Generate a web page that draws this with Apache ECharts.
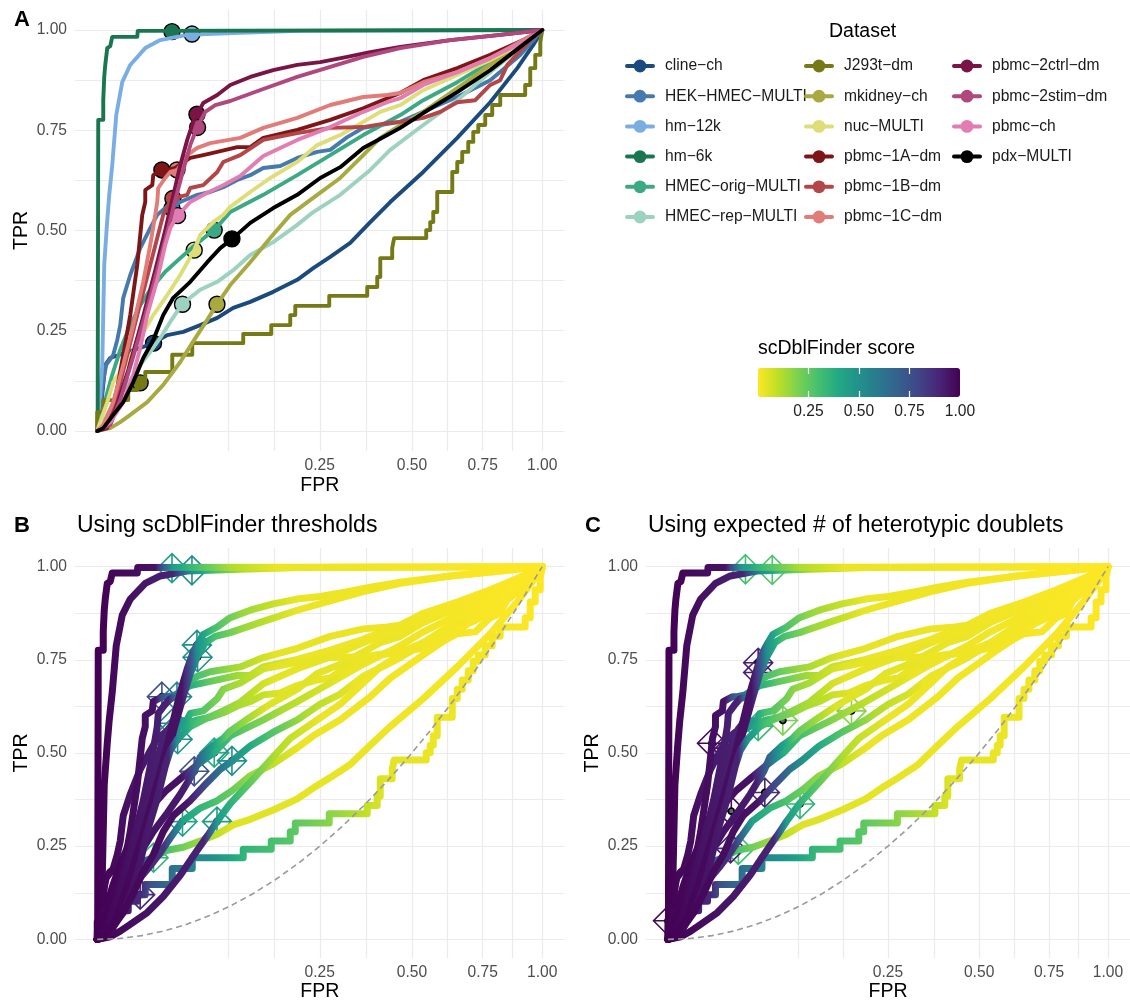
<!DOCTYPE html>
<html><head><meta charset="utf-8">
<script src="https://cdn.jsdelivr.net/npm/echarts@6/dist/echarts.min.js"></script>
<style>html,body{margin:0;padding:0;background:#fff}#chart{width:1130px;height:1003px}</style>
</head><body><div id="chart"></div>
<script>
// ---------------- data ----------------
const datasets = ['cline−ch','HEK−HMEC−MULTI','hm−12k','hm−6k','HMEC−orig−MULTI','HMEC−rep−MULTI',
  'J293t−dm','mkidney−ch','nuc−MULTI','pbmc−1A−dm','pbmc−1B−dm','pbmc−1C−dm',
  'pbmc−2ctrl−dm','pbmc−2stim−dm','pbmc−ch','pdx−MULTI'];
const datasetColors = ['#1B4B7D','#4679AE','#7AAEE2','#1A7650','#3CA985','#9DD2C0',
  '#757A17','#A9A942','#DEDD77','#7E1618','#B24648','#E17C79',
  '#7A1444','#B0477D','#E27DB1','#000000'];
const stepCurves = ['J293t−dm'];

const fprValues = [
  [0,0.00002,0.00008,0.000182,0.000323,0.000853,0.003955,0.009337,0.01584,0.02474,0.03735,0.05357,0.07272,0.0934,0.1182,0.1564,0.2020,0.2356,0.2741,0.3232,0.3764,0.4335,0.5367,0.6545,0.7799,0.8909,0.9601,1],
  [0,0.00002,0.00008,0.000182,0.000409,0.001293,0.00202,0.002671,0.003414,0.0055,0.009337,0.01418,0.01818,0.02335,0.02841,0.03479,0.0505,0.06448,0.08017,0.09898,0.1182,0.1392,0.1691,0.2020,0.2444,0.2741,0.3156,0.3573,0.4045,0.4637,0.5367,0.6545,0.7799,0.9036,1],
  [0,0.000005,0.000045,0.000126,0.000182,0.000247,0.000505,0.000727,0.001136,0.001823,0.003156,0.0055,0.01164,0.02004,0.0409,0.1033,0.2081,1],
  [0,0.000001,0.000005,0.000182,0.000182,0.000247,0.000323,0.000505,0.000853,0.001136,0.00808,0.00828,1],
  [0,0.000045,0.000323,0.001136,0.002671,0.0055,0.009337,0.01418,0.02335,0.03479,0.0485,0.0589,0.06913,0.08932,0.1392,0.2020,0.2741,0.3573,0.4637,0.5367,0.6545,0.7799,0.9164,1],
  [0,0.000182,0.000853,0.002671,0.0055,0.009337,0.01418,0.02004,0.02691,0.03649,0.05357,0.07272,0.0934,0.1182,0.1564,0.2020,0.2356,0.2982,0.3764,0.4335,0.5367,0.6545,0.7799,0.9164,1],
  [0,0,0.000182,0.004853,0.00808,0.01164,0.02841,0.04558,0.1076,0.1529,0.1881,0.1980,0.2718,0.3681,0.3959,0.4045,0.4393,0.4452,0.5465,0.5599,0.5701,0.5837,0.6365,0.6545,0.6727,0.6950,0.7139,0.7332,0.7602,0.7878,0.8201,0.9248,0.9467,0.9688,0.9911,1],
  [0,0.000853,0.002671,0.0055,0.01263,0.0220,0.03479,0.0505,0.0611,0.07272,0.08932,0.1182,0.1511,0.1881,0.2444,0.2982,0.3573,0.4045,0.4637,0.5367,0.6545,0.7799,0.9164,1],
  [0,0.000045,0.000505,0.001293,0.004545,0.009337,0.01584,0.02474,0.03479,0.04751,0.05357,0.06795,0.08017,0.08932,0.1182,0.1511,0.2020,0.2444,0.2982,0.3573,0.4045,0.4637,0.5367,0.6545,0.7799,0.9164,1],
  [0,0.000505,0.00202,0.003414,0.0055,0.00808,0.01023,0.01164,0.01164,0.01528,0.01584,0.02133,0.02474,0.03072,0.03649,0.04368,0.05674,0.07272,0.09898,0.1182,0.1392,0.2020,0.2741,0.3573,0.4247,0.4637,0.5367,0.6545,0.7799,0.9164,1],
  [0,0.000505,0.00202,0.004545,0.00808,0.01418,0.0220,0.02546,0.02917,0.0409,0.04368,0.05674,0.07272,0.08017,0.1033,0.1392,0.2020,0.2741,0.3573,0.4247,0.4637,0.5367,0.5940,0.6545,0.7216,0.7799,0.8201,0.8492,0.9467,1],
  [0,0.000182,0.001293,0.003414,0.006545,0.01069,0.01418,0.01699,0.01818,0.01879,0.02335,0.02691,0.03232,0.0409,0.0505,0.06448,0.1033,0.1392,0.2020,0.2741,0.3573,0.4247,0.4637,0.5367,0.6545,0.7799,0.9164,1],
  [0,0.000323,0.001636,0.004853,0.01023,0.01699,0.02335,0.02841,0.03479,0.0409,0.04654,0.0505,0.05674,0.07272,0.08932,0.1182,0.1564,0.2020,0.2511,0.3156,0.3764,0.4637,0.6294,0.8201,1],
  [0,0.000853,0.002671,0.006186,0.01164,0.01818,0.02474,0.03072,0.03735,0.04368,0.0505,0.0589,0.07032,0.08932,0.1392,0.2020,0.2741,0.3573,0.4637,0.6294,0.8201,1],
  [0,0.000853,0.003414,0.006545,0.009337,0.01263,0.01818,0.02335,0.02691,0.03232,0.04368,0.0611,0.08017,0.1033,0.1392,0.2020,0.2741,0.3573,0.4247,0.4637,0.5367,0.6545,0.7799,0.9164,1],
  [0,0.000182,0.001293,0.003414,0.006545,0.01069,0.01584,0.0220,0.02917,0.04368,0.0611,0.0764,0.09203,0.1182,0.1564,0.2020,0.2511,0.2982,0.3573,0.4247,0.4637,0.5367,0.6545,0.7799,0.9036,1]
];
const tprValues = [
  [0,0.032,0.065,0.115,0.165,0.182,0.195,0.207,0.219,0.239,0.247,0.264,0.282,0.307,0.322,0.347,0.377,0.406,0.434,0.469,0.521,0.571,0.646,0.731,0.820,0.905,0.963,1],
  [0,0.040,0.077,0.127,0.165,0.190,0.227,0.264,0.332,0.389,0.456,0.506,0.539,0.556,0.559,0.571,0.589,0.596,0.608,0.626,0.638,0.656,0.661,0.681,0.696,0.701,0.733,0.756,0.763,0.771,0.796,0.833,0.875,0.938,1],
  [0,0.040,0.090,0.165,0.289,0.414,0.526,0.589,0.663,0.788,0.870,0.913,0.955,0.975,0.988,0.993,0.998,1],
  [0,0.047,0.776,0.776,0.825,0.883,0.913,0.955,0.960,0.983,0.983,0.998,1],
  [0,0.027,0.077,0.140,0.202,0.264,0.314,0.352,0.397,0.431,0.464,0.484,0.501,0.546,0.589,0.638,0.688,0.738,0.788,0.825,0.870,0.920,0.970,1],
  [0,0.022,0.052,0.090,0.127,0.165,0.197,0.232,0.272,0.317,0.352,0.372,0.401,0.439,0.471,0.514,0.546,0.589,0.651,0.701,0.763,0.825,0.895,0.963,1],
  [0,0.047,0.077,0.102,0.120,0.147,0.190,0.219,0.242,0.264,0.289,0.312,0.337,0.359,0.384,0.431,0.456,0.481,0.501,0.521,0.546,0.596,0.646,0.671,0.696,0.721,0.746,0.763,0.788,0.813,0.838,0.863,0.905,0.938,0.970,1],
  [0,0.007,0.022,0.040,0.072,0.115,0.172,0.239,0.277,0.317,0.364,0.421,0.481,0.539,0.589,0.631,0.688,0.731,0.763,0.796,0.855,0.913,0.970,1],
  [0,0.022,0.072,0.122,0.172,0.232,0.289,0.339,0.389,0.451,0.489,0.521,0.539,0.559,0.596,0.631,0.671,0.713,0.738,0.771,0.796,0.813,0.850,0.888,0.925,0.968,1],
  [0,0.007,0.107,0.190,0.289,0.414,0.539,0.571,0.601,0.613,0.638,0.651,0.651,0.656,0.668,0.681,0.688,0.696,0.708,0.708,0.731,0.751,0.776,0.805,0.830,0.843,0.875,0.905,0.938,0.975,1],
  [0,0.015,0.090,0.190,0.289,0.414,0.539,0.564,0.581,0.589,0.606,0.613,0.646,0.671,0.688,0.726,0.743,0.756,0.758,0.768,0.771,0.781,0.796,0.820,0.825,0.863,0.875,0.913,0.975,1],
  [0,0.015,0.072,0.165,0.264,0.372,0.464,0.539,0.571,0.606,0.631,0.646,0.651,0.688,0.706,0.718,0.731,0.756,0.781,0.813,0.833,0.838,0.843,0.870,0.895,0.930,0.975,1],
  [0,0.007,0.052,0.152,0.277,0.401,0.501,0.576,0.663,0.726,0.771,0.791,0.818,0.838,0.863,0.883,0.900,0.913,0.920,0.933,0.945,0.958,0.975,0.988,1],
  [0,0.015,0.077,0.177,0.289,0.401,0.496,0.576,0.651,0.713,0.758,0.796,0.813,0.823,0.853,0.883,0.908,0.933,0.955,0.975,0.988,1],
  [0,0.022,0.072,0.140,0.207,0.289,0.377,0.464,0.506,0.536,0.571,0.594,0.613,0.636,0.686,0.726,0.758,0.796,0.820,0.830,0.863,0.895,0.930,0.970,1],
  [0,0.007,0.040,0.072,0.122,0.182,0.227,0.289,0.332,0.372,0.421,0.456,0.479,0.519,0.556,0.589,0.631,0.658,0.706,0.738,0.756,0.793,0.845,0.900,0.958,1]
];

// scDblFinder threshold (panels A and B)
const thresholdFpr   = [0.016,0.0282,0.0453,0.0282,0.0691,0.0367,0.0093,0.0724,0.0475,0.0211,0.0289,0.0321,0.0502,0.0508,0.0326,0.0916];
const thresholdTpr   = [0.219,0.555,0.990,0.996,0.501,0.316,0.120,0.316,0.451,0.651,0.580,0.651,0.790,0.757,0.537,0.479];
const thresholdScore = [0.35,0.55,0.5,0.45,0.38,0.42,0.88,0.45,0.75,0.75,0.55,0.55,0.5,0.5,0.5,0.5];
// expected # of heterotypic doublets (panel C)
const expectedFpr   = [0.0256,0.0681,0.0562,0.031,0.1739,0.0202,0,0.09,0.0207,0.0100,0.018,0.0159,0.042,0.042,0.042,0.0484];
const expectedTpr   = [0.240,0.587,0.991,0.993,0.613,0.244,0.050,0.363,0.344,0.526,0.513,0.495,0.742,0.716,0.572,0.394];
const expectedScore = [0.3,0.2,0.28,0.3,0.18,0.9,0.98,0.35,0.97,0.98,0.95,0.95,0.92,0.92,0.33,0.88];

const scoreFpr = [
  [0,0.01,0.0161,0.04,0.09,1],
  [0,0.0225,0.0282,0.0441,0.09,0.1764,1],
  [0,0.0289,0.0458,0.0676,0.1089,0.2025,1],
  [0,0.0169,0.0286,0.0484,0.09,0.16,1],
  [0,0.0361,0.0529,0.0692,0.1089,0.1764,0.3025,1],
  [0,0.0225,0.0369,0.0676,0.1225,0.2025,1],
  [0,0.0098,0.0144,0.0324,0.0676,0.1089,0.2025,0.3025,0.4225,1],
  [0,0.0576,0.0729,0.1024,0.16,0.25,1],
  [0,0.04,0.0475,0.0625,0.0841,0.1444,1],
  [0,0.0169,0.021,0.0361,0.0625,0.1089,0.2025,1],
  [0,0.0256,0.031,0.0484,0.09,0.16,1],
  [0,0.0256,0.0324,0.0484,0.09,0.16,1],
  [0,0.0361,0.0441,0.0502,0.0676,0.1089,0.2025,1],
  [0,0.0361,0.0441,0.0508,0.0676,0.1089,0.2025,1],
  [0,0.0256,0.0324,0.0484,0.09,0.16,1],
  [0,0.04,0.0625,0.0918,0.1444,0.2209,0.3364,1]
];
const scoreValue = [
  [1,0.85,0.35,0.2,0.05,0],
  [1,0.9,0.55,0.35,0.15,0.04,0],
  [1,0.9,0.5,0.3,0.12,0.03,0],
  [1,0.95,0.45,0.3,0.12,0.03,0],
  [1,0.95,0.65,0.38,0.25,0.12,0.03,0],
  [1,0.85,0.42,0.3,0.15,0.03,0],
  [1,0.88,0.75,0.6,0.5,0.35,0.25,0.15,0.04,0],
  [1,0.9,0.45,0.3,0.12,0.03,0],
  [1,0.92,0.75,0.5,0.25,0.05,0],
  [1,0.95,0.75,0.45,0.25,0.12,0.03,0],
  [1,0.9,0.55,0.3,0.15,0.04,0],
  [1,0.9,0.55,0.3,0.15,0.04,0],
  [1,0.95,0.75,0.5,0.3,0.15,0.03,0],
  [1,0.95,0.75,0.5,0.3,0.15,0.03,0],
  [1,0.9,0.5,0.3,0.15,0.04,0],
  [1,0.95,0.75,0.5,0.3,0.12,0.03,0]
];

const chanceFpr = [0,0.0025,0.01,0.0225,0.04,0.0625,0.09,0.1225,0.16,0.2025,0.25,0.3025,0.36,0.4225,0.49,0.5625,0.64,0.7225,0.81,0.9025,1];
const fprTicks = [0.25,0.5,0.75,1];
const fprGridTicks = [0.087,0.158,0.25,0.365,0.5,0.619,0.75,0.870,1];
const tprTicks = [0,0.25,0.5,0.75,1];
const tprGridTicks = [0,0.125,0.25,0.375,0.5,0.625,0.75,0.875,1];
const scoreTicks = [0.25,0.5,0.75,1];
const scoreTickMarks = [0.25,0.5,0.75];

// ---------------- helpers ----------------
const FONT = '"Liberation Sans", Arial, Helvetica, sans-serif';
const sx = v => Math.sqrt(v);   // sqrt-transformed FPR scale
const viridis = ['#440154','#482475','#414487','#355F8D','#2A788E','#21918C','#22A884','#44BF70','#7AD151','#BDDF26','#FDE725'];
function hex(h){return [parseInt(h.slice(1,3),16),parseInt(h.slice(3,5),16),parseInt(h.slice(5,7),16)];}
function viridisAt(t){
  t=Math.max(0,Math.min(1,t)); const p=t*10; const i=Math.min(9,Math.floor(p)); const f=p-i;
  const a=hex(viridis[i]), b=hex(viridis[i+1]);
  return 'rgb('+a.map((c,k)=>Math.round(c+(b[k]-c)*f)).join(',')+')';
}
const scoreColor = s => viridisAt(1 - s);
const curve = i => fprValues[i].map((f,k)=>[sx(f), tprValues[i][k]]);

const grids = [
  {left:75, top:10, width:489.5, height:441},
  {left:75, top:548, width:489.5, height:410},
  {left:646, top:548, width:489.5, height:410},
  {left:758, top:368, width:202, height:29}
];
const axisText = {color:'#4D4D4D', fontSize:15.6, fontFamily:FONT};
const nameText = {color:'#000', fontSize:19.5, fontFamily:FONT};
const gridLine = {show:true, lineStyle:{color:'#EBEBEB', width:1.2}};
function panelX(gi){
  return {type:'value', gridIndex:gi, min:-0.05, max:1.05, name:'FPR', nameLocation:'middle',
    nameGap: gi===0?25:24, nameTextStyle:nameText, axisLine:{show:false},
    axisTick:{show:false, customValues: fprGridTicks.map(sx)},
    axisLabel:Object.assign({customValues: fprTicks.map(sx), formatter:v=>(v*v).toFixed(2), margin:7}, axisText),
    splitLine:gridLine};
}
function panelY(gi){
  return {type:'value', gridIndex:gi, min:-0.05, max:1.05, name:'TPR', nameLocation:'middle',
    nameGap:43, nameTextStyle:nameText, axisLine:{show:false},
    axisTick:{show:false, customValues: tprGridTicks},
    axisLabel:Object.assign({customValues: tprTicks, formatter:v=>v.toFixed(2), margin:8}, axisText),
    splitLine:gridLine};
}
const barTick = {show:true, inside:true, length:6, lineStyle:{color:'#fff', width:1.2}, customValues:scoreTickMarks};
const xAxes = [panelX(0), panelX(1), panelX(2),
  {type:'value', gridIndex:3, min:0, max:1, position:'bottom', z:10, axisLine:{show:false}, axisTick:barTick,
   axisLabel:{customValues:scoreTicks, formatter:v=>v.toFixed(2), margin:7, color:'#222', fontSize:15.6, fontFamily:FONT}, splitLine:{show:false}},
  {type:'value', gridIndex:3, min:0, max:1, position:'top', z:10, axisLine:{show:false}, axisTick:barTick,
   axisLabel:{show:false}, splitLine:{show:false}}
];
const yAxes = [panelY(0), panelY(1), panelY(2), {type:'value', gridIndex:3, min:0, max:1, show:false}];

const series = [];
// Panel A: lines coloured by dataset
datasets.forEach((name,i)=>{
  series.push({type:'line', name, id:'A'+i, xAxisIndex:0, yAxisIndex:0, data:curve(i),
    showSymbol:false, symbol:'circle', step: stepCurves.includes(name)?'end':false,
    color:datasetColors[i], itemStyle:{color:datasetColors[i]},
    lineStyle:{width:3.9, color:datasetColors[i], cap:'round', join:'round'}, silent:true, emphasis:{disabled:true}});
});
series.push({type:'scatter', name:'thresholdA', xAxisIndex:0, yAxisIndex:0, symbolSize:16,
  itemStyle:{borderColor:'#000', borderWidth:1.4, opacity:1}, silent:true,
  data: datasets.map((n,i)=>({value:[sx(thresholdFpr[i]), thresholdTpr[i]], itemStyle:{color:datasetColors[i], opacity:1}}))});

const DIAMOND = 'path://M0,-10L10,0L0,10L-10,0Z M0,-10L0,10 M-10,0L10,0';
[1,2].forEach(gi=>{
  datasets.forEach((name,i)=>{
    series.push({type:'line', id:'P'+gi+'_'+i, name:'score '+name, xAxisIndex:gi, yAxisIndex:gi, data:curve(i),
      showSymbol:false, symbol:'none', step: stepCurves.includes(name)?'end':false,
      lineStyle:{width:7, color:'#440154', cap:'round', join:'round'}, silent:true, emphasis:{disabled:true}});
  });
  series.push({type:'line', name:'chance'+gi, xAxisIndex:gi, yAxisIndex:gi, data:chanceFpr.map(f=>[sx(f), f]),
    showSymbol:false, symbol:'none', lineStyle:{color:'#9A9A9A', width:1.6, type:[6,4]}, silent:true});
  const F = gi===1?thresholdFpr:expectedFpr, T = gi===1?thresholdTpr:expectedTpr, S = gi===1?thresholdScore:expectedScore;
  series.push({type:'scatter', name:'marker'+gi, xAxisIndex:gi, yAxisIndex:gi, symbol:DIAMOND, symbolSize:29,
    itemStyle:{color:'rgba(0,0,0,0)', borderWidth:1.6, opacity:1}, silent:true,
    data: datasets.map((n,i)=>({value:[sx(F[i]), T[i]], itemStyle:{borderColor:scoreColor(S[i])}}))});
  series.push({type:'scatter', name:'dot'+gi, xAxisIndex:gi, yAxisIndex:gi, symbol:'circle', symbolSize:6,
    itemStyle:{color:'#666', borderColor:'#000', borderWidth:1.8, opacity:1}, silent:true,
    data: datasets.map((n,i)=>[sx(F[i]), T[i]])});
});
series.push({type:'scatter', name:'colorbar', id:'colorbar', xAxisIndex:3, yAxisIndex:3, data:[]});
const colorbarIndex = series.length - 1;

const legendCommon = {orient:'vertical', top:58, itemWidth:26, itemHeight:16, itemGap:14.2, padding:0,
  selectedMode:false, lineStyle:{width:4},
  textStyle:{fontSize:15.6, color:'#1A1A1A', fontFamily:FONT, padding:[0,0,0,7]}};
const legends = [
  Object.assign({left:625, data:datasets.slice(0,6)}, legendCommon),
  Object.assign({left:804, data:datasets.slice(6,12)}, legendCommon),
  Object.assign({left:952, data:datasets.slice(12)}, legendCommon)
];

const titles = [
  {text:'A', left:14, top:9, padding:0, textStyle:{fontSize:22, fontWeight:'bold', color:'#000', fontFamily:FONT}},
  {text:'B', left:14, top:515, padding:0, textStyle:{fontSize:22, fontWeight:'bold', color:'#000', fontFamily:FONT}},
  {text:'C', left:585, top:515, padding:0, textStyle:{fontSize:22, fontWeight:'bold', color:'#000', fontFamily:FONT}},
  {text:'Using scDblFinder thresholds', left:77, top:514, padding:0, textStyle:{fontSize:23, fontWeight:'normal', color:'#000', fontFamily:FONT}},
  {text:'Using expected # of heterotypic doublets', left:648, top:514, padding:0, textStyle:{fontSize:23, fontWeight:'normal', color:'#000', fontFamily:FONT}},
  {text:'Dataset', left:829, top:22, padding:0, textStyle:{fontSize:19.5, fontWeight:'normal', color:'#000', fontFamily:FONT}},
  {text:'scDblFinder score', left:758, top:339, padding:0, textStyle:{fontSize:19.5, fontWeight:'normal', color:'#000', fontFamily:FONT}}
];

const chart = echarts.init(document.getElementById('chart'), null, {renderer:'canvas'});
chart.setOption({
  animation:false, backgroundColor:'#fff', textStyle:{fontFamily:FONT},
  title:titles, legend:legends, grid:grids, xAxis:xAxes, yAxis:yAxes,
  visualMap:{type:'continuous', orient:'horizontal', min:0, max:1, left:758, top:368, itemWidth:29, itemHeight:202,
    calculable:false, hoverLink:false, padding:0, seriesIndex:[colorbarIndex], dimension:0,
    inRange:{color: viridis.slice().reverse()}, text:null, showLabel:false},
  series
});

// Colour the B/C curves by score with gradients positioned through the axis scale
function gradientFor(gi, i){
  const x0 = chart.convertToPixel({gridIndex:gi}, [0,0])[0];
  const x1 = chart.convertToPixel({gridIndex:gi}, [1,0])[0];
  const fs = scoreFpr[i], ss = scoreValue[i], stops = [];
  for (let k=0;k<fs.length-1;k++){
    const u0=sx(fs[k]), u1=sx(fs[k+1]);
    for (let m=0;m<6;m++){ const t=m/6; stops.push({offset:u0+(u1-u0)*t, color:scoreColor(ss[k]+(ss[k+1]-ss[k])*t)}); }
  }
  stops.push({offset:1, color:scoreColor(ss[ss.length-1])});
  return new echarts.graphic.LinearGradient(x0,0,x1,0,stops,true);
}
const updates = [];
[1,2].forEach(gi=>datasets.forEach((n,i)=>updates.push({id:'P'+gi+'_'+i, lineStyle:{color:gradientFor(gi,i)}})));
chart.setOption({series:updates});
</script></body></html>
